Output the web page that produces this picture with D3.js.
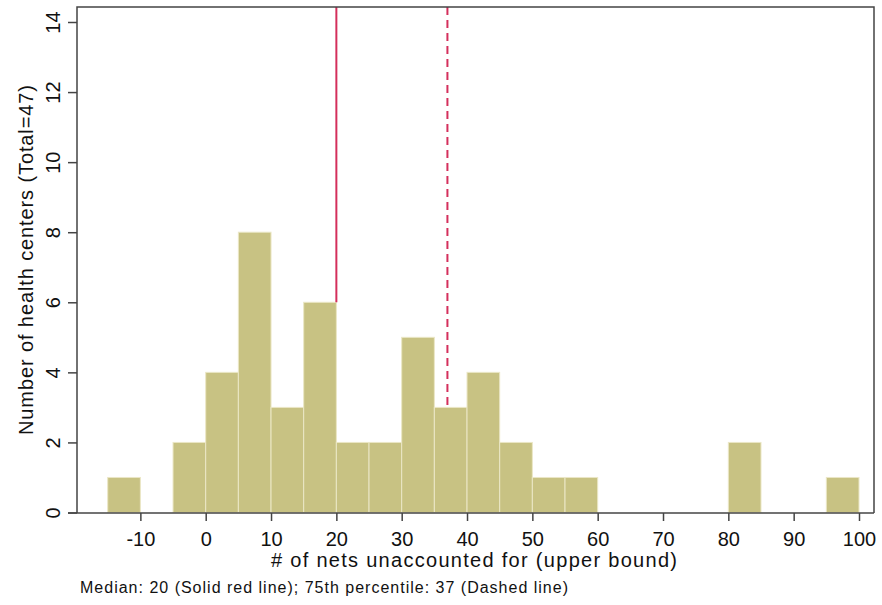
<!DOCTYPE html>
<html><head><meta charset="utf-8">
<script src="https://cdn.jsdelivr.net/npm/d3@7"></script>
<style>body{margin:0;background:#fff}svg{display:block}text{font-family:"Liberation Sans",Arial,sans-serif;fill:#111}</style>
</head><body><svg id="c" width="882" height="605"></svg>
<script>
const binStarts = [-15,-10,-5,0,5,10,15,20,25,30,35,40,45,50,55,60,65,70,75,80,85,90,95];
const counts    = [1,0,2,4,8,3,6,2,2,5,3,4,2,1,1,0,0,0,0,2,0,0,1];
const binWidth = 5;
const xTicks = [-10,0,10,20,30,40,50,60,70,80,90,100];
const yTicks = [0,2,4,6,8,10,12,14];
const median = 20, p75 = 37;
const xTitle = "# of nets unaccounted for (upper bound)";
const yTitle = "Number of health centers (Total=47)";
const note = "Median: 20 (Solid red line); 75th percentile: 37 (Dashed line)";

const svg = d3.select("#c");
const L = 77, R = 874, T = 7, B = 513;
const x = d3.scaleLinear().domain([0,100]).range([205.7,859]);
const y = d3.scaleLinear().domain([0,14]).range([512.5,22]);
const barColor = "#c8c283", lineColor = "#d42f5c";

// bars
svg.append("g").selectAll("rect").data(binStarts.map((s,i)=>({s,c:counts[i]})).filter(d=>d.c>0))
  .join("rect")
  .attr("x", d=>x(d.s)).attr("width", d=>x(d.s+binWidth)-x(d.s))
  .attr("y", d=>y(d.c)).attr("height", d=>y(0)-y(d.c))
  .attr("fill", barColor).attr("stroke","#ebe7c6").attr("stroke-width",1);

function countAt(v){ const i = binStarts.findIndex(s=>v>=s && v<s+binWidth); return i<0?0:counts[i]; }
// median / p75 lines
svg.append("line").attr("x1",x(median)).attr("x2",x(median)).attr("y1",T).attr("y2",y(counts[binStarts.indexOf(15)]))
  .attr("stroke",lineColor).attr("stroke-width",2);
svg.append("line").attr("x1",x(p75)).attr("x2",x(p75)).attr("y1",T).attr("y2",y(countAt(p75)))
  .attr("stroke",lineColor).attr("stroke-width",2).attr("stroke-dasharray","8,5");

// frame
svg.append("path").attr("d",`M${L},${B}V${T}H${R}V${B}`).attr("fill","none").attr("stroke","#444").attr("stroke-width",1.5);

// x axis
const xa = svg.append("g").attr("transform",`translate(0,${B})`)
  .call(d3.axisBottom(x).tickValues(xTicks).tickSize(8).tickPadding(6).tickFormat(d3.format("d")));
xa.select(".domain").remove();
xa.append("line").attr("x1",68).attr("x2",R).attr("stroke","#444").attr("stroke-width",1.5);
xa.selectAll(".tick line").attr("stroke","#444").attr("stroke-width",1.5);
xa.selectAll(".tick text").remove();
xa.selectAll(".tick").append("text").attr("y",33).attr("text-anchor","middle").attr("font-size",20).attr("fill","#111")
  .text(d=>d<0?"-"+Math.abs(d):d);

// y axis
const ya = svg.append("g").attr("transform",`translate(${L},0)`)
  .call(d3.axisLeft(y).tickValues(yTicks).tickSize(9).tickPadding(0));
ya.select(".domain").remove();
ya.selectAll(".tick line").attr("stroke","#444").attr("stroke-width",1.5);
ya.selectAll(".tick text").remove();
ya.selectAll(".tick").append("text").attr("transform","translate(-17,0) rotate(-90)")
  .attr("text-anchor","middle").attr("font-size",20).attr("fill","#111").text(d=>d);

// titles
svg.append("text").attr("x",474).attr("y",567).attr("text-anchor","middle").attr("font-size",20)
  .attr("textLength",406).attr("lengthAdjust","spacing").text(xTitle);
svg.append("text").attr("transform",`translate(33,260) rotate(-90)`).attr("text-anchor","middle").attr("font-size",20)
  .attr("textLength",350).attr("lengthAdjust","spacing").text(yTitle);
svg.append("text").attr("x",80).attr("y",593).attr("font-size",16)
  .attr("textLength",488).attr("lengthAdjust","spacing").text(note);
</script></body></html>
